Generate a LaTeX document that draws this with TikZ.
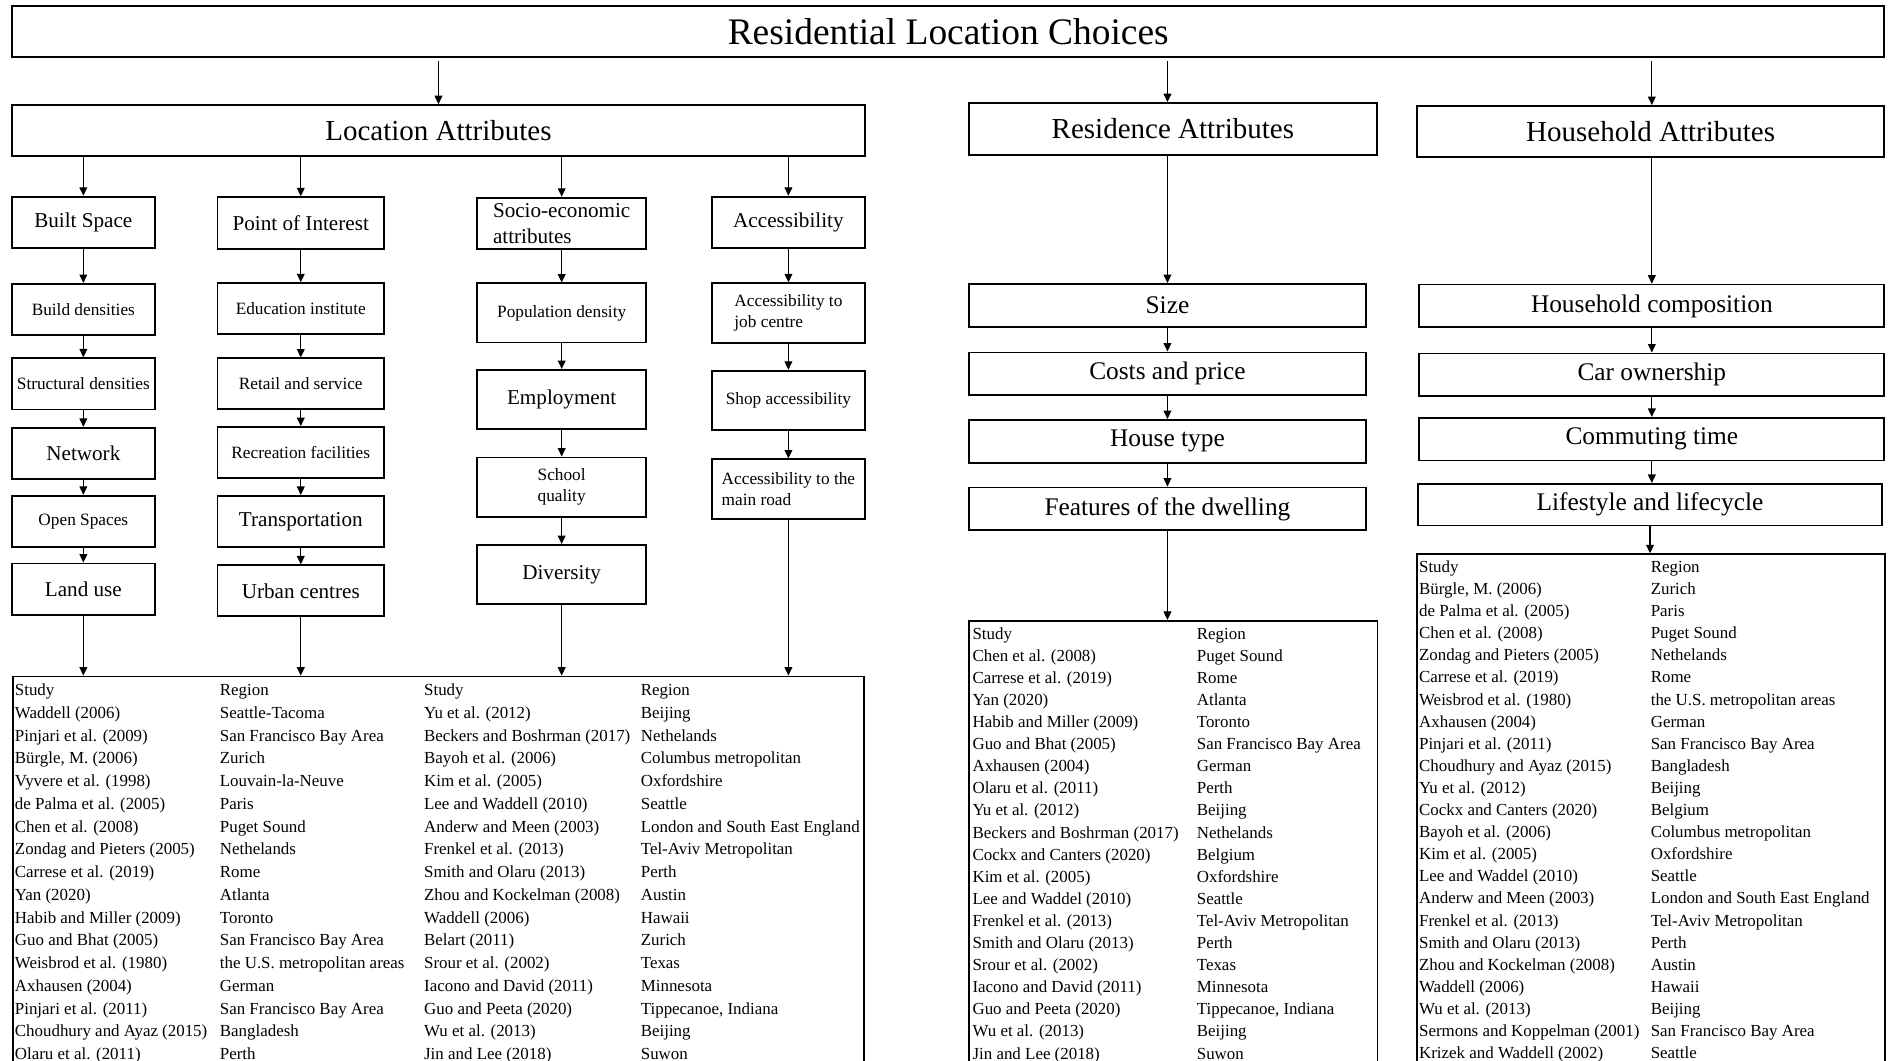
\documentclass[tikz,border=0pt]{standalone}
\usepackage{fontspec}
\setmainfont{Liberation Serif}
\usetikzlibrary{arrows.meta}

\tikzset{
  box/.style={draw, line width=1.5pt, inner sep=1pt, align=center},
  arr/.style={-{Triangle[length=7pt,width=6.5pt]}, line width=0.9pt},
  big/.style={font=\fontsize{31}{36}\selectfont},
  head/.style={font=\fontsize{24}{28}\selectfont},
  mid/.style={font=\fontsize{17.5}{21}\selectfont},
  sml/.style={font=\fontsize{14.3}{17}\selectfont},
  rgt/.style={font=\fontsize{21}{25}\selectfont},
  colA/.style={box, minimum width=118pt, minimum height=42.4pt},
  colB/.style={box, minimum width=138pt, minimum height=42.2pt},
  colC/.style={box, minimum width=140pt, minimum height=49pt},
  colD/.style={box, minimum width=126.2pt, minimum height=49.2pt},
  colR/.style={box, rgt, minimum width=329pt, minimum height=35.5pt},
  colH/.style={box, rgt, minimum width=385pt, minimum height=35.4pt},
  tab/.style={draw, line width=1.5pt, anchor=north west},
}

\begin{document}
\begin{tikzpicture}[x=1pt, y=-1pt]
\useasboundingbox (0,0) rectangle (1568,878);

\node [box, big, minimum width=1550pt, minimum height=42pt] (rlc) at (785,26) {Residential Location Choices};

\node [box, head, minimum width=706pt, minimum height=42pt] (loc) at (363,108) {Location Attributes};
\node [box, head, minimum width=338pt, minimum height=43pt] (res) at (971,106.8) {Residence Attributes};
\node [box, head, minimum width=387pt, minimum height=42pt] (hh) at (1366.5,108.7) {Household Attributes};

\node [colA, mid, minimum height=42.8pt] (built) at (69,184.2) {Built Space};
\node [colB, mid, minimum height=42.8pt] (poi) at (249,184.6) {Point of Interest};
\node [colC, mid, minimum height=42.8pt, align=left] (socio) at (465,185) {Socio-economic\\attributes};
\node [colD, mid, minimum height=42.8pt] (acc) at (652.7,184.2) {Accessibility};

\node [colA, sml] (bd) at (69,256.2) {Build densities};
\node [colA, sml] (sd) at (69,317.8) {Structural densities};
\node [colA, mid] (nw) at (69,375.3) {Network};
\node [colA, sml] (os) at (69,431.6) {Open Spaces};
\node [colA, mid] (lu) at (69,487.7) {Land use};

\node [colB, sml] (edu) at (249,255.5) {Education institute};
\node [colB, sml] (ret) at (249,317.8) {Retail and service};
\node [colB, sml] (rec) at (249,374.6) {Recreation facilities};
\node [colB, mid] (tra) at (249,431.6) {Transportation};
\node [colB, mid] (uc) at (249,489.1) {Urban centres};

\node [colC, sml] (pd) at (465,259.1) {Population density};
\node [colC, mid] (emp) at (465,330.7) {Employment};
\node [colC, sml] (sq) at (465,403.2) {School\\quality};
\node [colC, mid] (div) at (465,475.6) {Diversity};

\node [colD, sml, align=left] (ajc) at (652.7,259.1) {Accessibility to\\job centre};
\node [colD, sml] (sa) at (652.7,331.5) {Shop accessibility};
\node [colD, sml, align=left] (amr) at (652.7,404.9) {Accessibility to the\\main road};

\node [colR] (size) at (966.5,252.8) {Size};
\node [colR] (cost) at (966.5,309.5) {Costs and price};
\node [colR] (ht) at (966.5,365.4) {House type};
\node [colR] (feat) at (966.5,421.3) {Features of the dwelling};

\node [colH] (hc) at (1367.5,253.3) {Household composition};
\node [colH] (car) at (1367.5,310.3) {Car ownership};
\node [colH] (com) at (1367.5,363.6) {Commuting time};
\node [colH, minimum width=384pt, minimum height=34.5pt] (life) at (1366,417.8) {Lifestyle and lifecycle};

\node [tab, inner xsep=1.6pt, inner ysep=2.7pt, minimum width=704.7pt, font=\fontsize{14}{18.83}\selectfont] (t1) at (10,559.3) {%
\begin{tabular}{@{}p{169.7pt}@{}p{169.1pt}@{}p{179.4pt}@{}p{183.3pt}@{}}
Study & Region & Study & Region\\
Waddell (2006) & Seattle-Tacoma & Yu et al. (2012) & Beijing\\
Pinjari et al. (2009) & San Francisco Bay Area & Beckers and Boshrman (2017) & Nethelands\\
Bürgle, M. (2006) & Zurich & Bayoh et al. (2006) & Columbus metropolitan\\
Vyvere et al. (1998) & Louvain-la-Neuve & Kim et al. (2005) & Oxfordshire\\
de Palma et al. (2005) & Paris & Lee and Waddell (2010) & Seattle\\
Chen et al. (2008) & Puget Sound & Anderw and Meen (2003) & London and South East England\\
Zondag and Pieters (2005) & Nethelands & Frenkel et al. (2013) & Tel-Aviv Metropolitan\\
Carrese et al. (2019) & Rome & Smith and Olaru (2013) & Perth\\
Yan (2020) & Atlanta & Zhou and Kockelman (2008) & Austin\\
Habib and Miller (2009) & Toronto & Waddell (2006) & Hawaii\\
Guo and Bhat (2005) & San Francisco Bay Area & Belart (2011) & Zurich\\
Weisbrod et al. (1980) & the U.S. metropolitan areas & Srour et al. (2002) & Texas\\
Axhausen (2004) & German & Iacono and David (2011) & Minnesota\\
Pinjari et al. (2011) & San Francisco Bay Area & Guo and Peeta (2020) & Tippecanoe, Indiana\\
Choudhury and Ayaz (2015) & Bangladesh & Wu et al. (2013) & Beijing\\
Olaru et al. (2011) & Perth & Jin and Lee (2018) & Suwon
\end{tabular}};

\node [tab, inner xsep=2.8pt, inner ysep=2.3pt, minimum width=338pt, font=\fontsize{14}{18.3}\selectfont] (t2) at (801.6,513.2) {%
\begin{tabular}{@{}p{185.7pt}@{}p{146.7pt}@{}}
Study & Region\\
Chen et al. (2008) & Puget Sound\\
Carrese et al. (2019) & Rome\\
Yan (2020) & Atlanta\\
Habib and Miller (2009) & Toronto\\
Guo and Bhat (2005) & San Francisco Bay Area\\
Axhausen (2004) & German\\
Olaru et al. (2011) & Perth\\
Yu et al. (2012) & Beijing\\
Beckers and Boshrman (2017) & Nethelands\\
Cockx and Canters (2020) & Belgium\\
Kim et al. (2005) & Oxfordshire\\
Lee and Waddel (2010) & Seattle\\
Frenkel et al. (2013) & Tel-Aviv Metropolitan\\
Smith and Olaru (2013) & Perth\\
Srour et al. (2002) & Texas\\
Iacono and David (2011) & Minnesota\\
Guo and Peeta (2020) & Tippecanoe, Indiana\\
Wu et al. (2013) & Beijing\\
Jin and Lee (2018) & Suwon
\end{tabular}};

\node [tab, inner xsep=1.9pt, inner ysep=2.3pt, minimum width=387.4pt, font=\fontsize{14}{18.3}\selectfont] (t3) at (1172.2,458) {%
\begin{tabular}{@{}p{191.8pt}@{}p{191.8pt}@{}}
Study & Region\\
Bürgle, M. (2006) & Zurich\\
de Palma et al. (2005) & Paris\\
Chen et al. (2008) & Puget Sound\\
Zondag and Pieters (2005) & Nethelands\\
Carrese et al. (2019) & Rome\\
Weisbrod et al. (1980) & the U.S. metropolitan areas\\
Axhausen (2004) & German\\
Pinjari et al. (2011) & San Francisco Bay Area\\
Choudhury and Ayaz (2015) & Bangladesh\\
Yu et al. (2012) & Beijing\\
Cockx and Canters (2020) & Belgium\\
Bayoh et al. (2006) & Columbus metropolitan\\
Kim et al. (2005) & Oxfordshire\\
Lee and Waddel (2010) & Seattle\\
Anderw and Meen (2003) & London and South East England\\
Frenkel et al. (2013) & Tel-Aviv Metropolitan\\
Smith and Olaru (2013) & Perth\\
Zhou and Kockelman (2008) & Austin\\
Waddell (2006) & Hawaii\\
Wu et al. (2013) & Beijing\\
Sermons and Koppelman (2001) & San Francisco Bay Area\\
Krizek and Waddell (2002) & Seattle
\end{tabular}};

\draw [arr, shorten <=3pt] (rlc.south -| loc.north) -- (loc.north);
\draw [arr, shorten <=3pt] (rlc.south -| size.north) -- (res.north -| size.north);
\draw [arr, shorten <=3pt] (rlc.south -| hc.north) -- (hh.north -| hc.north);

\draw [arr] (loc.south -| built.north) -- (built.north);
\draw [arr] (loc.south -| poi.north) -- (poi.north);
\draw [arr] (loc.south -| socio.north) -- (socio.north);
\draw [arr] (loc.south -| acc.north) -- (acc.north);

\draw [arr] (built.south) -- (bd.north);
\draw [arr] (bd.south) -- (sd.north);
\draw [arr] (sd.south) -- (nw.north);
\draw [arr] (nw.south) -- (os.north);
\draw [arr] (os.south) -- (lu.north);
\draw [arr] (lu.south) -- (lu.south |- t1.north);

\draw [arr] (poi.south) -- (edu.north);
\draw [arr] (edu.south) -- (ret.north);
\draw [arr] (ret.south) -- (rec.north);
\draw [arr] (rec.south) -- (tra.north);
\draw [arr] (tra.south) -- (uc.north);
\draw [arr] (uc.south) -- (uc.south |- t1.north);

\draw [arr] (socio.south) -- (pd.north);
\draw [arr] (pd.south) -- (emp.north);
\draw [arr] (emp.south) -- (sq.north);
\draw [arr] (sq.south) -- (div.north);
\draw [arr] (div.south) -- (div.south |- t1.north);

\draw [arr] (acc.south) -- (ajc.north);
\draw [arr] (ajc.south) -- (sa.north);
\draw [arr] (sa.south) -- (amr.north);
\draw [arr] (amr.south) -- (amr.south |- t1.north);

\draw [arr] (res.south -| size.north) -- (size.north);
\draw [arr] (size.south) -- (cost.north);
\draw [arr] (cost.south) -- (ht.north);
\draw [arr] (ht.south) -- (feat.north);
\draw [arr] (feat.south) -- (feat.south |- t2.north);

\draw [arr] (hh.south -| hc.north) -- (hc.north);
\draw [arr] (hc.south) -- (car.north);
\draw [arr] (car.south) -- (com.north);
\draw [arr] (com.south) -- (life.north -| com.south);
\draw [arr] (life.south) -- (life.south |- t3.north);

\end{tikzpicture}
\end{document}
